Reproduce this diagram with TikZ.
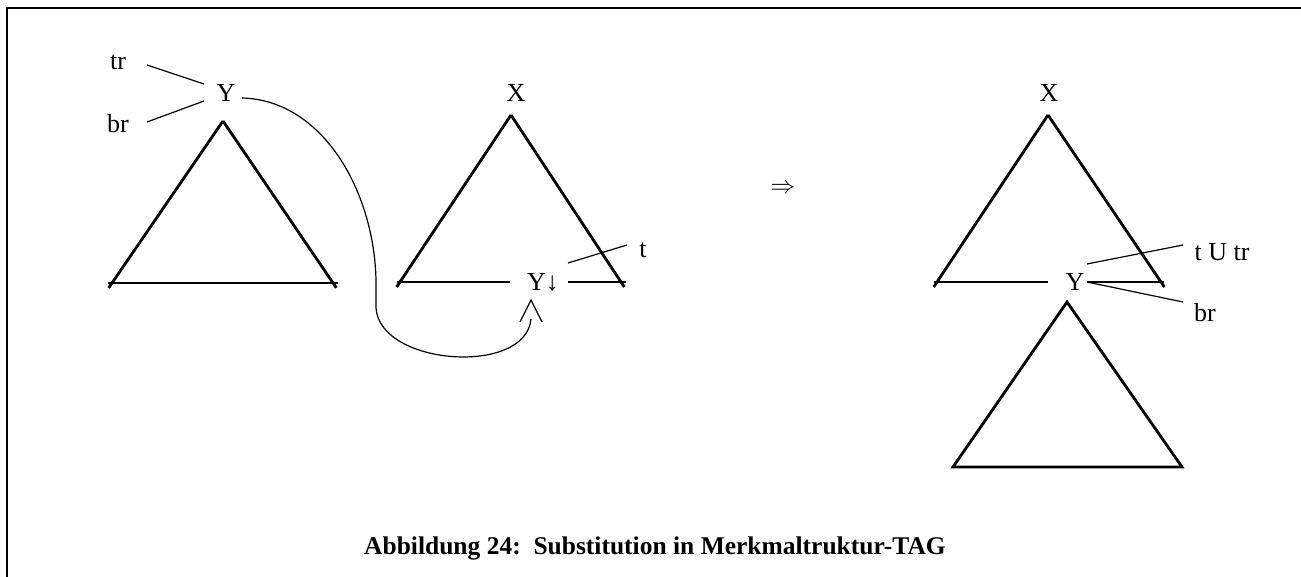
\documentclass[tikz,border=0pt]{standalone}
\usepackage{fontspec}
\setmainfont{Liberation Serif}
\usetikzlibrary{calc}
\begin{document}
\begin{tikzpicture}[x=1pt,y=-1pt,
  lbl/.style={inner sep=0pt, font=\fontsize{26}{30}\selectfont},
  tri/.style={line width=2.8pt, line cap=butt},
  thin/.style={line width=1.2pt},
  frame/.style={line width=2.8pt}]
\useasboundingbox (0,0) rectangle (1301,577);
% frame
\draw[frame] (7,577) -- (7,8) -- (1301,8);

% left elementary tree
\node[lbl] (Y1) at (226,93) {Y};
\node[lbl] (tr1) at (118,62) {tr};
\node[lbl] (br1) at (118,124) {br};
\draw[thin] ([shift={(29,3)}]tr1.center) -- ([shift={(-22,-9)}]Y1.center);
\draw[thin] ([shift={(29,-2)}]br1.center) -- ([shift={(-22,8)}]Y1.center);
\coordinate (A1) at (223,121);
\coordinate (L1) at (112,283);
\coordinate (R1) at (333,283);
\draw[tri] (A1) -- ($(A1)!1.03!(L1)$);
\draw[tri] (A1) -- ($(A1)!1.03!(R1)$);
\draw[tri] ([xshift=-4]L1) -- ([xshift=5]R1);

% middle tree
\node[lbl] (X2) at (516,93) {X};
\node[lbl] (Y2) at (543,282) {Y↓};
\node[lbl] (t2) at (643,250) {t};
\coordinate (A2) at (511,115);
\coordinate (L2) at (400,282);
\coordinate (R2) at (621,282);
\draw[tri] (A2) -- ($(A2)!1.03!(L2)$);
\draw[tri] (A2) -- ($(A2)!1.03!(R2)$);
\draw[tri] ([xshift=-3]L2) -- ([xshift=-33]Y2.center);
\draw[tri] ([xshift=25]Y2.center) -- ([xshift=5]R2);
\draw[thin] ([shift={(25,-19)}]Y2.center) -- ([shift={(-16,-5)}]t2.center);

% substitution curve
\coordinate (tip) at (531,319);
\coordinate (wedge) at (531,300);
\draw[thin] ([shift={(16,5)}]Y1.center) .. controls (322,100) and (374,190) .. (376,280)
  -- (376,308) .. controls (380,366) and (526,376) .. (tip);
\draw[thin] ([shift={(-11,22)}]wedge) -- (wedge) -- ([shift={(11,22)}]wedge);

% arrow
\node[inner sep=0pt, font=\fontsize{30}{34}\selectfont] (arr) at (783,189) {$\Rightarrow$};

% result tree
\node[lbl] (X3) at (1049,93) {X};
\node[lbl] (Y3) at (1075,282) {Y};
\node[lbl] (tutr) at (1222,252) {t U tr};
\node[lbl] (br3) at (1205,313) {br};
\coordinate (A3) at (1048,115);
\coordinate (L3) at (937,282);
\coordinate (R3) at (1161,282);
\draw[tri] (A3) -- ($(A3)!1.03!(L3)$);
\draw[tri] (A3) -- ($(A3)!1.03!(R3)$);
\draw[tri] ([xshift=-3]L3) -- ([xshift=-27]Y3.center);
\draw[tri] ([xshift=12]Y3.center) -- ([xshift=3]R3);
\draw[thin] ([shift={(12,-18)}]Y3.center) -- ([shift={(-39,-7)}]tutr.center);
\draw[thin] ([shift={(12,0)}]Y3.center) -- ([shift={(-22,-11)}]br3.center);
\coordinate (A4) at (1067,302);
\coordinate (L4) at (953,467);
\coordinate (R4) at (1182,467);
\draw[tri, line join=miter] (A4) -- (R4) -- (L4) -- cycle;

% caption
\node[inner sep=0pt, font=\fontsize{25.5}{30}\selectfont\bfseries] (cap) at (655,548)
  {Abbildung 24:\ \ Substitution in Merkmaltruktur-TAG};
\end{tikzpicture}
\end{document}
